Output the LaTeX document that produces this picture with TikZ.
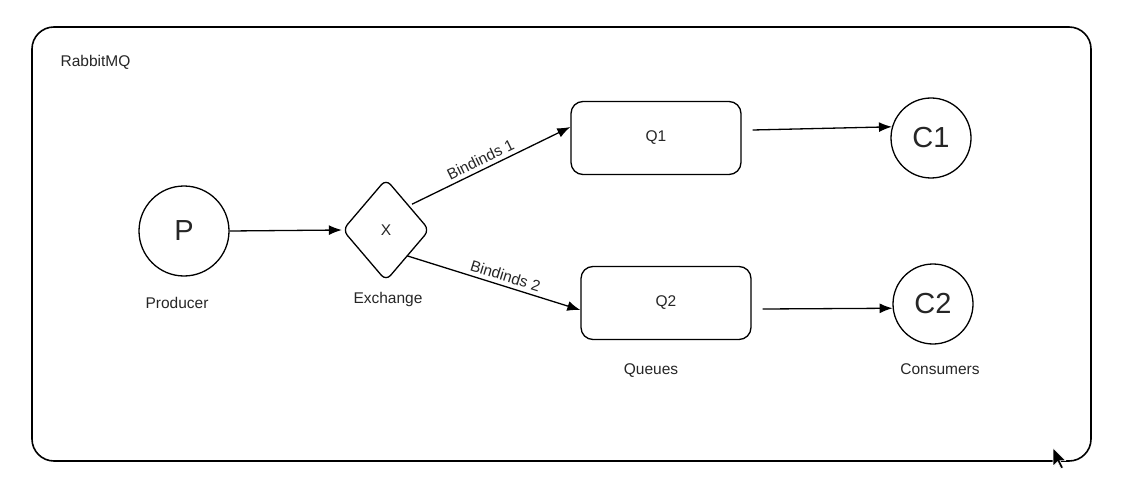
\documentclass[tikz,border=0pt]{standalone}
\usepackage{fontspec}
\setmainfont{Liberation Sans}
\usetikzlibrary{positioning,shapes.geometric,arrows.meta}

\begin{document}
\begin{tikzpicture}[
x=1pt, y=-1pt,
line width=1.3pt,
font=\fontsize{15.5}{18}\selectfont,
text=black!85,
circ/.style={circle, draw, minimum size=90pt, inner sep=0pt, font=\fontsize{29}{32}\selectfont},
cons/.style={circ, minimum size=80pt},
queue/.style={draw, rounded corners=12pt, minimum width=170pt, minimum height=73pt},
xchg/.style={diamond, draw, rounded corners=7pt, minimum width=87pt, minimum height=102pt, inner sep=0pt},
lbl/.style={inner sep=0pt},
link/.style={-{Latex[length=13pt,width=10pt]}}]
\useasboundingbox (0,0) rectangle (1126,489);
\draw[line width=1.6pt, rounded corners=22pt] (32,27) rectangle (1091,461);
\node[lbl, anchor=west] (rmq) at (60,62) {RabbitMQ};

\node[circ] (p) at (184,231) {P};
\node[xchg] (x) at (386,230) {X};
\node[queue] (q1) at (656,138) {Q1};
\node[queue] (q2) at (666,303) {Q2};
\node[cons] (c1) at (931,138) {C1};
\node[cons] (c2) at (933,304) {C2};

\node[lbl] (prod) at (177,303) {Producer};
\node[lbl] (exch) at (388,299) {Exchange};
\node[lbl] (qs) at (651,371) {Queues};
\node[lbl] (cs) at (940,369) {Consumers};

\draw[link] (p.east) -- (x.west);
\draw[link] ([xshift=4pt]x.north east) -- node[pos=0.46, above=4pt, sloped, lbl] (b1) {Bindinds 1} ([yshift=11pt]q1.west);
\draw[link] ([xshift=-1pt]x.south east) -- node[pos=0.55, above=4pt, sloped, lbl] (b2) {Bindinds 2} ([yshift=-7pt]q2.west);
\draw[link] ([xshift=11pt,yshift=8pt]q1.east) -- (c1.164);
\draw[link] ([xshift=11pt,yshift=-6pt]q2.east) -- (c2.186);

% cursor
\draw[fill=black, draw=white, line width=0.6pt, shift={(1053,448)}, scale=1.15]
  (0,0) -- (0,16) -- (4,12) -- (7,18) -- (9,17) -- (6,11) -- (11,11) -- cycle;
\end{tikzpicture}
\end{document}
